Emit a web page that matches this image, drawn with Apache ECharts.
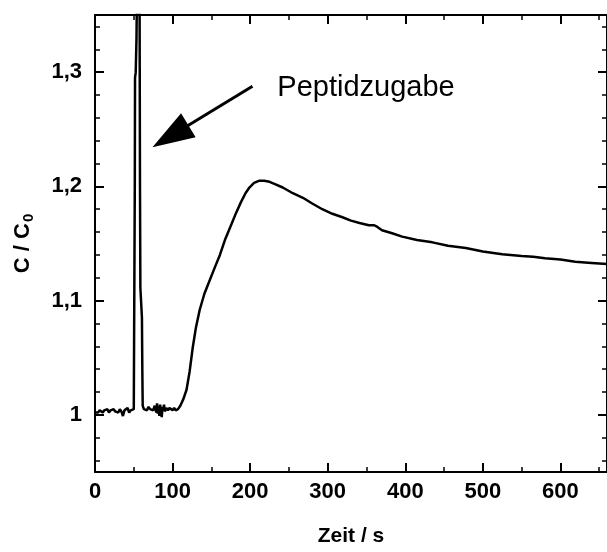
<!DOCTYPE html>
<html>
<head>
<meta charset="utf-8">
<script src="https://cdn.jsdelivr.net/npm/echarts@6/dist/echarts.min.js"></script>
<style>
  html, body { margin: 0; padding: 0; background: #fff; }
  #chart { width: 607px; height: 552px; }
</style>
</head>
<body>
<div id="chart"></div>
<script>
// Zeit in s
var zeit = [
  0, 2, 4, 6, 8, 10, 12, 14, 16, 18, 20, 22, 24, 26, 28, 30, 32, 34, 36, 38, 40, 42, 44, 46, 48, 50,
  51, 51.3, 51.6, 52.5, 53.5, 54.5, 55.5, 56.5, 57.5, 58, 58.5, 60.5, 61, 61.5,
  62, 63, 65, 67, 69, 71, 73, 75, 77, 79, 80, 81, 82, 83, 84, 85, 86, 87, 88, 89, 90, 92, 94, 96, 98, 100, 102, 104, 106,
  107, 110, 114, 118, 122, 126, 130, 135, 141, 148, 155, 161, 168, 176, 182, 188, 194, 199, 205, 212, 218, 225, 232,
  242, 255, 268, 280, 293, 306, 319, 330, 341, 353, 360, 364, 370, 383, 396, 415, 435, 455, 478, 500, 525, 550, 565,
  580, 600, 619, 640, 660
]
// c / c0
var verhaeltnis = [
  1.002, 1.003, 1.002, 1.004, 1.003, 1.002, 1.004, 1.003, 1.005, 1.002, 1.004, 1.003, 1.005, 1.003, 1.004, 1.002,
  1.005, 1.003, 0.999, 1.004, 1.003, 1.006, 1.002, 1.004, 1.003, 1.005,
  1.006, 1.20, 1.295, 1.30, 1.33, 1.40, 1.45, 1.42, 1.35, 1.20, 1.111, 1.085, 1.04, 1.008,
  1.007, 1.005, 1.006, 1.004, 1.007, 1.005, 1.006, 1.004, 1.008, 1.002, 1.010, 1.001, 1.008, 0.999, 1.009, 1.003,
  0.998, 1.007, 1.004, 1.009, 1.003, 1.006, 1.004, 1.006, 1.005, 1.004, 1.006, 1.004, 1.005,
  1.005, 1.008, 1.014, 1.022, 1.038, 1.059, 1.076, 1.092, 1.106, 1.118, 1.130, 1.140, 1.154, 1.167, 1.177, 1.186,
  1.194, 1.199, 1.203, 1.205, 1.205, 1.204, 1.202,
  1.199, 1.194, 1.190, 1.185, 1.180, 1.176, 1.173, 1.170, 1.168, 1.166, 1.166, 1.1645, 1.1616, 1.159, 1.156, 1.153,
  1.151, 1.148, 1.146, 1.143, 1.1406, 1.139, 1.1385,
  1.137, 1.136, 1.134, 1.133, 1.132
]
var xTicks = [0, 660, 100]      // min, max, interval
var yTicks = [0.95, 1.35]       // min, max
// Pfeil: von, nach (Datenkoordinaten)
var pfeilVon = [203, 1.2876]
var pfeilNach = [97.2, 1.2439]
var textPos = [235, 1.2859]
var textLabel = 'Peptidzugabe'

var daten = []
for (var i = 0; i < zeit.length; i++) {
  daten.push([zeit[i], verhaeltnis[i]])
}

var schrift = '"Liberation Sans", Arial, sans-serif'

function xAchse(pos, labels) {
  return {
    type: 'value',
    position: pos,
    min: xTicks[0],
    max: xTicks[1],
    interval: xTicks[2],
    axisLine: { show: true, onZero: false, lineStyle: { color: '#000', width: 2 } },
    axisTick: { show: true, inside: true, length: 9, lineStyle: { color: '#000', width: 2 } },
    minorTick: { show: true, splitNumber: 2, length: 5, lineStyle: { color: '#000', width: 1.5 } },
    splitLine: { show: false },
    minorSplitLine: { show: false },
    axisLabel: {
      show: labels, color: '#000', fontSize: 22, fontWeight: 'bold', fontFamily: schrift,
      margin: 9, showMaxLabel: false
    },
    name: labels ? 'Zeit / s' : '',
    nameLocation: 'middle',
    nameGap: 54,
    nameTextStyle: { color: '#000', fontSize: 21, fontWeight: 'bold', fontFamily: schrift }
  }
}

function yAchse(pos, labels) {
  return {
    type: 'value',
    position: pos,
    min: yTicks[0],
    max: yTicks[1],
    splitNumber: 4,
    axisLine: { show: true, onZero: false, lineStyle: { color: '#000', width: 2 } },
    axisTick: { show: true, inside: true, length: 9, lineStyle: { color: '#000', width: 2 } },
    minorTick: { show: true, splitNumber: 5, length: 5, lineStyle: { color: '#000', width: 1.5 } },
    splitLine: { show: false },
    minorSplitLine: { show: false },
    axisLabel: {
      show: labels, color: '#000', fontSize: 22, fontWeight: 'bold', fontFamily: schrift,
      margin: 13, showMinLabel: false, showMaxLabel: false,
      formatter: function (v) {
        return String(Math.round(v * 100) / 100).replace('.', ',')
      }
    },
    name: labels ? '{a|C / C}{b|0}' : '',
    nameLocation: 'middle',
    nameRotate: 90,
    nameGap: 60,
    nameTextStyle: {
      rich: {
        a: { color: '#000', fontSize: 22, fontWeight: 'bold', fontFamily: schrift, lineHeight: 24 },
        b: { color: '#000', fontSize: 15, fontWeight: 'bold', fontFamily: schrift, lineHeight: 24, padding: [12, 0, 0, 1] }
      }
    }
  }
}

var chart = echarts.init(document.getElementById('chart'), null, { renderer: 'canvas' })
chart.setOption({
  animation: false,
  backgroundColor: '#fff',
  grid: { left: 95, top: 15, right: -2, bottom: 76, containLabel: false },
  xAxis: [xAchse('bottom', true), xAchse('top', false)],
  yAxis: [yAchse('left', true), yAchse('right', false)],
  series: [{
    type: 'line',
    data: daten,
    showSymbol: false,
    symbol: 'none',
    clip: true,
    lineStyle: { color: '#000', width: 2.5 },
    markLine: {
      silent: true,
      symbol: ['none', 'triangle'],
      symbolSize: [28, 42],
      lineStyle: { color: '#000', width: 3, type: 'solid' },
      itemStyle: { color: '#000' },
      label: { show: false },
      data: [[{ coord: pfeilVon }, { coord: pfeilNach }]]
    },
    markPoint: {
      silent: true,
      symbol: 'circle',
      symbolSize: 0,
      data: [{
        coord: textPos,
        label: {
          show: true, position: 'right', distance: 0, formatter: textLabel,
          color: '#000', fontSize: 29, fontFamily: schrift
        }
      }]
    }
  }]
})
</script>
</body>
</html>
